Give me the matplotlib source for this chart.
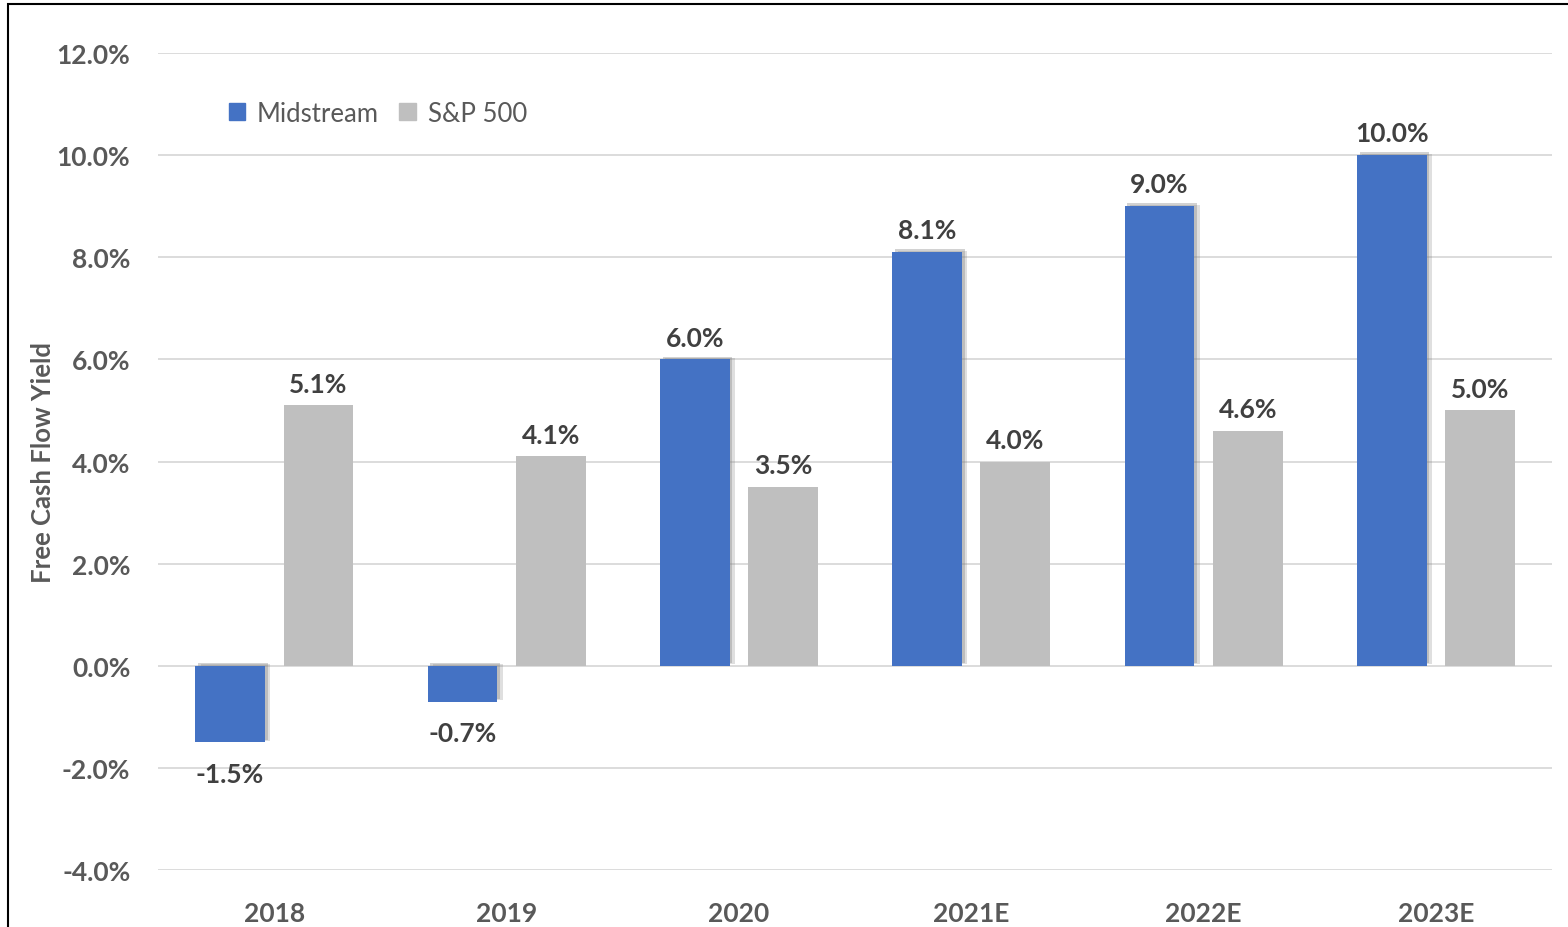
import matplotlib.pyplot as plt
import matplotlib.patheffects as pe
from matplotlib.patches import Rectangle, Patch
import numpy as np

years = ["2018", "2019", "2020", "2021E", "2022E", "2023E"]
midstream = [-1.5, -0.7, 6.0, 8.1, 9.0, 10.0]
sp500 = [5.1, 4.1, 3.5, 4.0, 4.6, 5.0]

blue = "#4472C4"
gray = "#BFBFBF"
tick_color = "#595959"
label_color = "#404040"

plt.rcParams["font.family"] = ["Lato", "DejaVu Sans"]

fig = plt.figure(figsize=(15.68, 9.28), dpi=100)
ax = fig.add_axes([0.1008, 0.0614, 0.889, 0.8804])

x = np.arange(len(years))
w = 0.30
off = 0.19

# soft shadow on the blue bars, a few layers
shadow = [pe.SimplePatchShadow(offset=(4, 1), shadow_rgbFace="#808080", alpha=0.25),
          pe.SimplePatchShadow(offset=(2, 2), shadow_rgbFace="#808080", alpha=0.35),
          pe.Normal()]
b1 = ax.bar(x - off, midstream, w, color=blue, zorder=3)
for p in b1:
    p.set_path_effects(shadow)
b2 = ax.bar(x + off, sp500, w, color=gray, zorder=3)

fs = 19
for xi, v in zip(x - off, midstream):
    if v >= 0:
        ax.annotate(f"{v:.1f}%", (xi, v), xytext=(0, 7), textcoords="offset points",
                    ha="center", va="bottom", fontsize=fs, fontweight="bold", color=label_color)
    else:
        ax.annotate(f"{v:.1f}%", (xi, v), xytext=(0, -14), textcoords="offset points",
                    ha="center", va="top", fontsize=fs, fontweight="bold", color=label_color)
for xi, v in zip(x + off, sp500):
    ax.annotate(f"{v:.1f}%", (xi, v), xytext=(0, 7), textcoords="offset points",
                ha="center", va="bottom", fontsize=fs, fontweight="bold", color=label_color)

ax.set_xlim(-0.5, len(years) - 0.5)
ax.set_ylim(-4, 12)
ticks = np.arange(-4, 13, 2)
ax.set_yticks(ticks)
ax.set_yticklabels([f"{t:.1f}%" for t in ticks])
ax.set_xticks(x)
ax.set_xticklabels(years)
ax.tick_params(axis="both", length=0, labelsize=fs, labelcolor=tick_color)
ax.tick_params(axis="y", pad=20)
ax.tick_params(axis="x", pad=22)
for lab in ax.get_xticklabels() + ax.get_yticklabels():
    lab.set_fontweight("bold")

ax.grid(axis="y", color="#D9D9D9", linewidth=1.3, zorder=0)
ax.set_axisbelow(True)
for s in ax.spines.values():
    s.set_visible(False)

ax.set_ylabel("Free Cash Flow Yield", fontsize=18.5, fontweight="bold", color=tick_color)
ax.yaxis.set_label_coords(-0.074, 0.5)

handles = [Patch(color=blue, label="Midstream"), Patch(color=gray, label="S&P 500")]
ax.legend(handles=handles, loc="upper left", bbox_to_anchor=(0.034, 0.97), ncol=2, frameon=False,
          fontsize=18.5, handlelength=0.65, handleheight=0.65, handletextpad=0.45,
          columnspacing=0.8, labelcolor=tick_color)

fig.patches.append(Rectangle((8 / 1568, -0.01), 1.1, 1 - 5 / 928 + 0.01, transform=fig.transFigure,
                             fill=False, edgecolor="black", linewidth=1.5))

fig.savefig("out.png", dpi=100)
